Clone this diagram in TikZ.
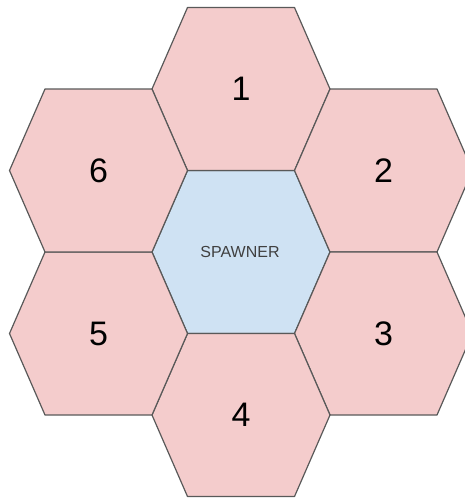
\documentclass[tikz,border=0pt]{standalone}
\usepackage{fontspec}
\setmainfont{Liberation Sans}
\usetikzlibrary{positioning}
\definecolor{cellred}{HTML}{F4CCCC}
\definecolor{cellblue}{HTML}{CFE2F3}
\definecolor{cellline}{HTML}{595959}

% hexagon with flat top and bottom, centred at (#1,#2), filled with #3
\newcommand{\hexcell}[3]{%
  \draw[cell,fill=#3] (#1-89,#2) -- (#1-53.5,#2-81.5) -- (#1+53.5,#2-81.5)
    -- (#1+89,#2) -- (#1+53.5,#2+81.5) -- (#1-53.5,#2+81.5) -- cycle;}

\begin{document}
\begin{tikzpicture}[x=1pt,y=-1pt,
  cell/.style={draw=cellline,line width=1.2pt,line join=round},
  num/.style={font=\fontsize{34}{34}\selectfont,text=black},
  every node/.style={inner sep=0pt}]
\useasboundingbox (0,0) rectangle (465,498);

\hexcell{241}{252}{cellblue}
\hexcell{241}{89}{cellred}
\hexcell{383.5}{170.5}{cellred}
\hexcell{383.5}{333.5}{cellred}
\hexcell{241}{415}{cellred}
\hexcell{98.5}{333.5}{cellred}
\hexcell{98.5}{170.5}{cellred}

\node[font=\fontsize{16}{16}\selectfont,text=black!75] (spawner) at (240,252) {SPAWNER};
\node[num] (hex1) at (241,89) {1};
\node[num] (hex2) at (383.5,170.5) {2};
\node[num] (hex3) at (383.5,333.5) {3};
\node[num] (hex4) at (241,415) {4};
\node[num] (hex5) at (98.5,333.5) {5};
\node[num] (hex6) at (98.5,170.5) {6};
\end{tikzpicture}
\end{document}
